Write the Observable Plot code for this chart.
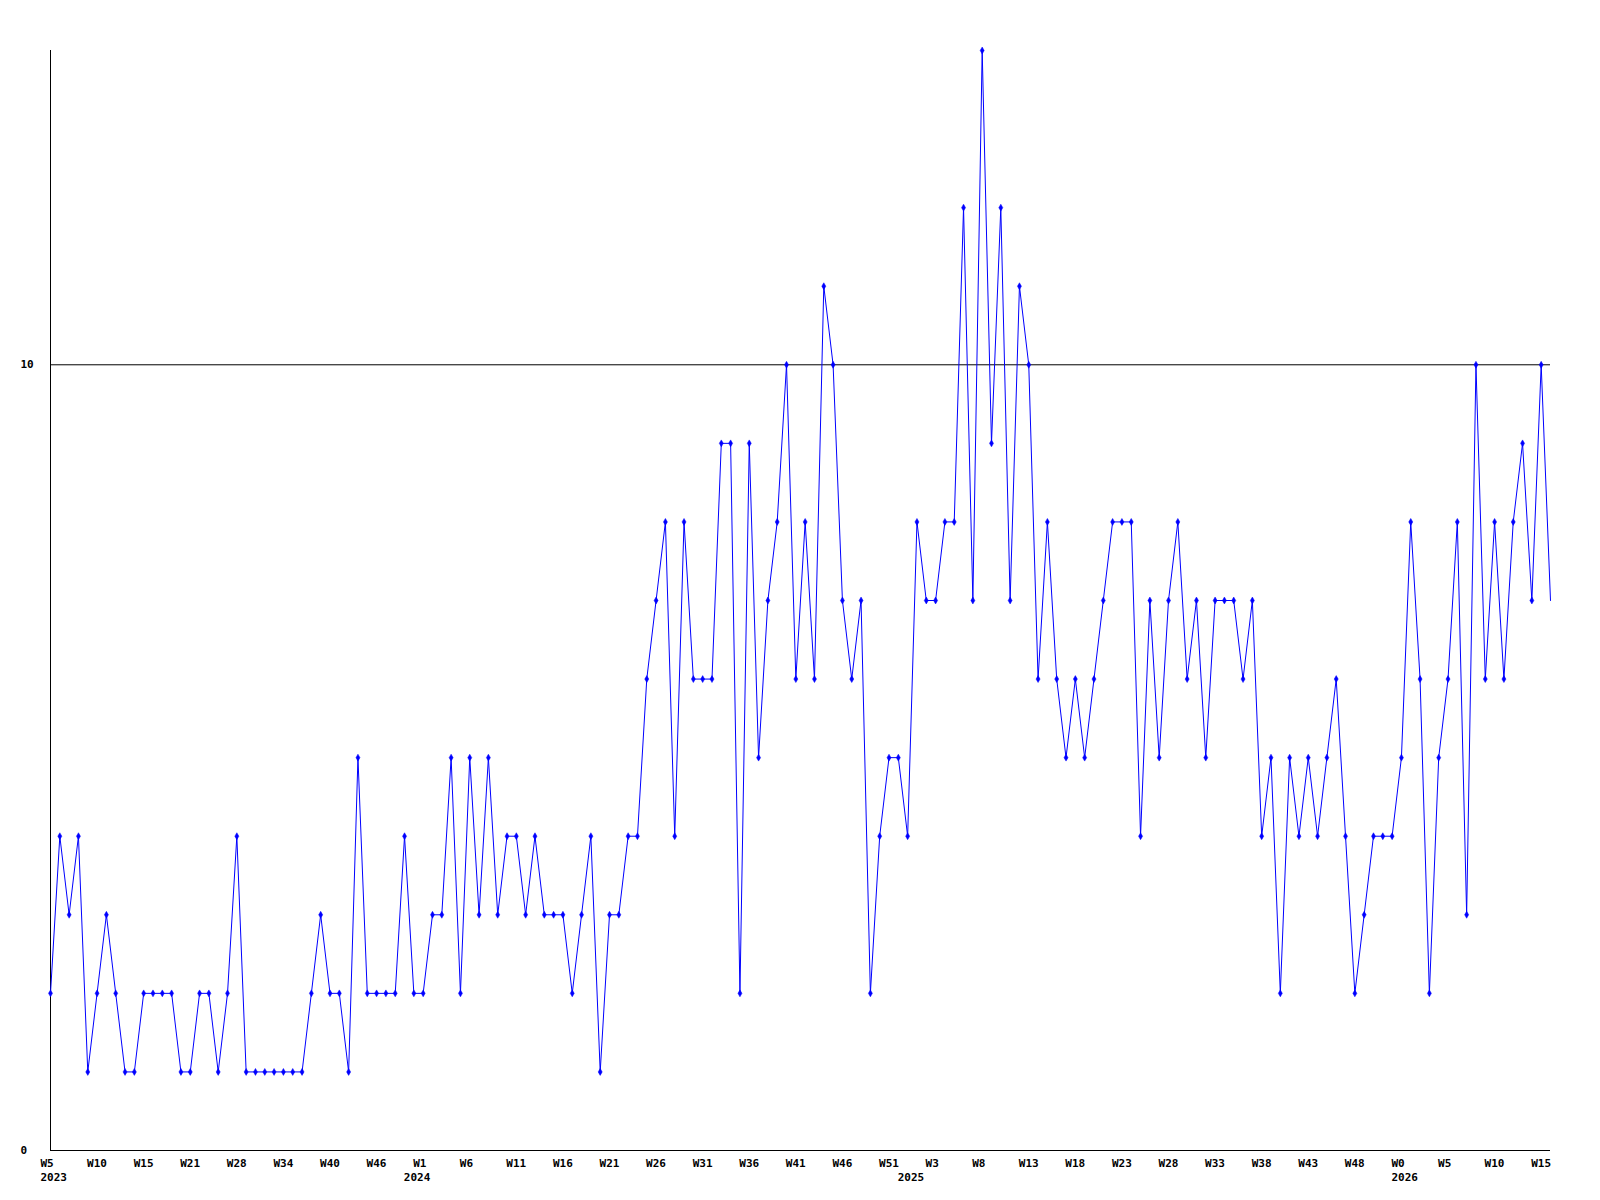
<!DOCTYPE html>
<html>
<head>
<meta charset="utf-8">
<script src="https://cdn.jsdelivr.net/npm/d3@7"></script>
<script src="https://cdn.jsdelivr.net/npm/@observablehq/plot@0.6"></script>
<style>
  html, body { margin: 0; padding: 0; background: #ffffff; }
  #chart { width: 1600px; height: 1200px; }
</style>
</head>
<body>
<div id="chart"></div>
<script>
// Weekly values, one per point (index 0 = W5 2023)
const values = [
  2,4,3,4,1,2,3,2,1,1, 2,2,2,2,1,1,2,2,1,2,
  4,1,1,1,1,1,1,1,2,3, 2,2,1,5,2,2,2,2,4,2,
  2,3,3,5,2,5,3,5,3,4, 4,3,4,3,3,3,2,3,4,1,
  3,3,4,4,6,7,8,4,8,6, 6,6,9,9,2,9,5,7,8,10,
  6,8,6,11,10,7,6,7,2,4, 5,5,4,8,7,7,8,8,12,7,
  14,9,12,7,11,10,6,8,6,5, 6,5,6,7,8,8,8,4,7,5,
  7,8,6,7,5,7,7,7,6,7, 4,5,2,5,4,5,4,5,6,4,
  2,3,4,4,4,5,8,6,2,5, 6,8,3,10,6,8,6,8,9,7,
  10,7
];

// Week tick labels (every 5th point)
const weekTickIndex = [0,5,10,15,20,25,30,35,40,45,50,55,60,65,70,75,80,85,90,95,100,105,110,115,120,125,130,135,140,145,150,155,160];
const weekTickLabels = ["W5","W10","W15","W21","W28","W34","W40","W46","W1","W6","W11","W16","W21","W26","W31","W36","W41","W46","W51","W3","W8","W13","W18","W23","W28","W33","W38","W43","W48","W0","W5","W10","W15"];

// Year labels at the first point of each year
const yearTickIndex = [0, 39, 92, 145];
const yearTickLabels = ["2023", "2024", "2025", "2026"];

// Y-axis labels
const yTicks = [0, 10];

const data = values.map((v, i) => ({i, v}));
// the last (current, incomplete) week is drawn without a marker
const markerData = data.slice(0, data.length - 1);
const weekMap = new Map(weekTickIndex.map((d, k) => [d, weekTickLabels[k]]));
const yearMap = new Map(yearTickIndex.map((d, k) => [d, yearTickLabels[k]]));

const font = "'DejaVu Sans Mono', 'Liberation Mono', monospace";
const blue = "#0000ff";

const chart = Plot.plot({
  width: 1600,
  height: 1200,
  marginLeft: 50,
  marginRight: 50,
  marginTop: 50,
  marginBottom: 50,
  style: {background: "#ffffff", fontFamily: font, fontSize: "11px", fontWeight: "bold", color: "#000"},
  x: {type: "linear", domain: [0, values.length - 1]},
  y: {domain: [0, 14]},
  marks: [
    Plot.ruleY([10], {stroke: "#000", strokeWidth: 1}),
    Plot.ruleX([0], {stroke: "#000", strokeWidth: 1}),
    Plot.ruleY([0], {stroke: "#000", strokeWidth: 1}),
    Plot.line(data, {x: "i", y: "v", stroke: blue, strokeWidth: 1, curve: "linear"}),
    Plot.dot(markerData, {x: "i", y: "v", symbol: "diamond", r: 2.1, fill: blue, stroke: blue, strokeWidth: 0.5}),
    Plot.axisX(weekTickIndex, {
      anchor: "bottom", tickSize: 0, tickPadding: 9, label: null,
      tickFormat: d => weekMap.get(d), textAnchor: "start", dx: -10,
      fontFamily: font, fontSize: 11, fontWeight: "bold", fill: "#000"
    }),
    Plot.axisX(yearTickIndex, {
      anchor: "bottom", tickSize: 0, tickPadding: 23, label: null,
      tickFormat: d => yearMap.get(d), textAnchor: "start", dx: -10,
      fontFamily: font, fontSize: 11, fontWeight: "bold", fill: "#000"
    }),
    Plot.axisY(yTicks, {
      anchor: "left", tickSize: 0, tickPadding: 30, label: null,
      textAnchor: "start", tickFormat: d => String(d),
      fontFamily: font, fontSize: 11, fontWeight: "bold", fill: "#000"
    })
  ]
});

document.getElementById("chart").appendChild(chart);
</script>
</body>
</html>
